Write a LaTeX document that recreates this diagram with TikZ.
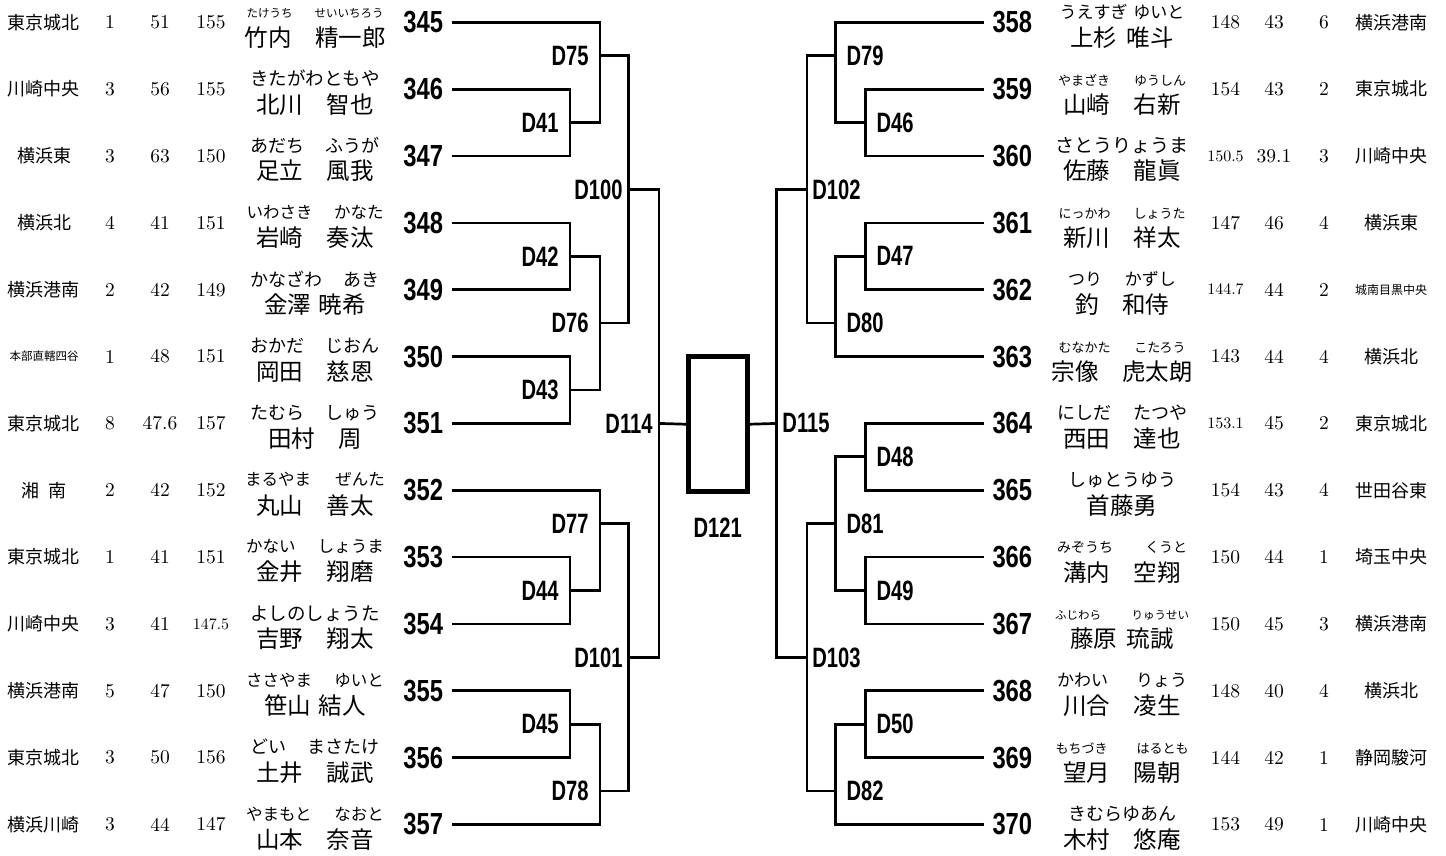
\documentclass[tikz,border=0pt]{standalone}
\usepackage{fontspec}
\newfontfamily\jp{Noto Sans CJK JP}
\newfontfamily\numf{lmroman10-regular.otf}
\newfontfamily\bnum[FakeStretch=0.78]{Liberation Sans Bold}
\newfontfamily\dfont[FakeStretch=0.72]{Liberation Sans Bold}
\newcommand\fs[1]{\fontsize{#1}{#1}\selectfont}
\newcommand\fg[4]{{\fs{#1}\makebox[#2pt]{#3\hfill#4}}}
\tikzset{
  every node/.style={inner sep=0pt, outer sep=0pt},
  col/.style={font=\numf\fs{19.5}},
  team/.style={font=\jp\fs{18}},
  furi/.style={font=\jp},
  kanji/.style={font=\jp\fs{23.5}},
  pnum/.style={font=\bnum\fs{30.5}},
  dlab/.style={font=\dfont\fs{28}},
  br/.style={line width=2.7pt, line join=miter},
}
% left row: index, number, team, a, b, c, furigana, name, furigana offset
\newcommand\Lrow[9]{%
  \pgfmathsetmacro\Y{22.3+66.85*#1}%
  \node[team] (t#2) at (44,\Y) {#3};
  \node[col] (a#2) at (110,\Y) {#4};
  \node[col] (b#2) at (160,\Y) {#5};
  \node[col] (c#2) at (211,\Y) {#6};
  \node[furi] (f#2) at (315,{\Y+(#9)}) {#7};
  \node[kanji] (k#2) at (315,{\Y+15}) {#8};
  \node[pnum, anchor=east] (n#2) at (443,\Y) {#2};
  \coordinate (l#2) at (451.7,\Y);
}
% right row: index, number, furigana, offset, name, a, b, c, team
\newcommand\Rrow[9]{%
  \pgfmathsetmacro\Y{22.3+66.85*#1}%
  \node[pnum, anchor=west] (n#2) at (992.5,\Y) {#2};
  \node[furi] (f#2) at (1122,{\Y+(#4)}) {#3};
  \node[kanji] (k#2) at (1122,{\Y+15}) {#5};
  \node[col] (a#2) at (1225.5,\Y) {#6};
  \node[col] (b#2) at (1274,\Y) {#7};
  \node[col] (c#2) at (1324,\Y) {#8};
  \node[team] (t#2) at (1391,\Y) {#9};
  \coordinate (l#2) at (983.7,\Y);
}
\newcommand\M[3]{\coordinate (m#1) at (#2,{22.3+66.85*#3});}
\begin{document}
\begin{tikzpicture}[x=1pt,y=-1pt]
\useasboundingbox (0,0) rectangle (1446,855);
\fill[white] (0,0) rectangle (1446,855);

\Lrow{0}{345}{東京城北}{1}{51}{155}{\fg{11.5}{137}{たけうち}{せいいちろう}}{竹内　精一郎}{-9}
\Lrow{1}{346}{川崎中央}{3}{56}{155}{{\fs{18.5}きたがわともや}}{北川　智也}{-10.5}
\Lrow{2}{347}{横浜東}{3}{63}{150}{\fg{18}{130}{あだち}{ふうが}}{足立　風我}{-10.5}
\Lrow{3}{348}{横浜北}{4}{41}{151}{\fg{16.5}{137}{いわさき}{かなた}}{岩崎　奏汰}{-10.5}
\Lrow{4}{349}{横浜港南}{2}{42}{149}{\fg{18}{130}{かなざわ}{あき}}{金澤\hspace{0.3em}暁希}{-10.5}
\Lrow{5}{350}{{\fs{11.5}本部直轄四谷}}{1}{48}{151}{\fg{18}{130}{おかだ}{じおん}}{岡田　慈恩}{-10.5}
\Lrow{6}{351}{東京城北}{8}{47.6}{157}{\fg{18}{130}{たむら}{しゅう}}{田村　周}{-10.5}
\Lrow{7}{352}{湘\hspace{0.5em}南}{2}{42}{152}{\fg{16.5}{140}{まるやま}{ぜんた}}{丸山　善太}{-10.5}
\Lrow{8}{353}{東京城北}{1}{41}{151}{\fg{16.5}{138}{かない}{しょうま}}{金井　翔磨}{-10.5}
\Lrow{9}{354}{川崎中央}{3}{41}{{\fs{16}147.5}}{{\fs{18.5}よしのしょうた}}{吉野　翔太}{-10.5}
\Lrow{10}{355}{横浜港南}{5}{47}{150}{\fg{16.5}{138}{ささやま}{ゆいと}}{笹山\hspace{0.3em}結人}{-10.5}
\Lrow{11}{356}{東京城北}{3}{50}{156}{\fg{18}{130}{どい}{まさたけ}}{土井　誠武}{-10.5}
\Lrow{12}{357}{横浜川崎}{3}{44}{147}{\fg{16.5}{138}{やまもと}{なおと}}{山本　奈音}{-10.5}

\Rrow{0}{358}{\fg{17}{125}{うえすぎ}{ゆいと}}{-10.5}{上杉\hspace{0.4em}唯斗}{148}{43}{6}{横浜港南}
\Rrow{1}{359}{\fg{13}{128}{やまざき}{ゆうしん}}{-9}{山崎　右新}{154}{43}{2}{東京城北}
\Rrow{2}{360}{{\fs{19}さとうりょうま}}{-10.5}{佐藤　龍眞}{{\fs{16}150.5}}{39.1}{3}{川崎中央}
\Rrow{3}{361}{\fg{13}{127}{にっかわ}{しょうた}}{-9}{新川　祥太}{147}{46}{4}{横浜東}
\Rrow{4}{362}{\fg{17}{108}{つり}{かずし}}{-10.5}{釣　和侍}{{\fs{16}144.7}}{44}{2}{{\fs{12}城南目黒中央}}
\Rrow{5}{363}{\fg{13}{127}{むなかた}{こたろう}}{-9}{宗像　虎太朗}{143}{44}{4}{横浜北}
\Rrow{6}{364}{\fg{18}{130}{にしだ}{たつや}}{-10.5}{西田　達也}{{\fs{16}153.1}}{45}{2}{東京城北}
\Rrow{7}{365}{{\fs{18}しゅとうゆう}}{-10.5}{首藤勇}{154}{43}{4}{世田谷東}
\Rrow{8}{366}{\fg{14}{130}{みぞうち}{くうと}}{-9.5}{溝内　空翔}{150}{44}{1}{埼玉中央}
\Rrow{9}{367}{\fg{11.5}{134}{ふじわら}{りゅうせい}}{-9}{藤原\hspace{0.4em}琉誠}{150}{45}{3}{横浜港南}
\Rrow{10}{368}{\fg{17}{130}{かわい}{りょう}}{-10.5}{川合　凌生}{148}{40}{4}{横浜北}
\Rrow{11}{369}{\fg{13}{133}{もちづき}{はるとも}}{-9}{望月　陽朝}{144}{42}{1}{静岡駿河}
\Rrow{12}{370}{{\fs{18}きむらゆあん}}{-10.5}{木村　悠庵}{153}{49}{1}{川崎中央}

% match junctions, left
\M{41}{570}{1.5} \M{42}{570}{3.5} \M{43}{570}{5.5}
\M{44}{570}{8.5} \M{45}{570}{10.5}
\M{75}{600}{0.5} \M{76}{600}{4.5} \M{77}{600}{7.5} \M{78}{600}{11.5}
\M{100}{628.5}{2.5} \M{101}{628.5}{9.5}
\M{114}{659}{6}
% match junctions, right
\M{46}{865.5}{1.5} \M{47}{865.5}{3.5} \M{48}{865.5}{6.5}
\M{49}{865.5}{8.5} \M{50}{865.5}{10.5}
\M{79}{835.5}{0.5} \M{80}{835.5}{4.5} \M{81}{835.5}{7.5} \M{82}{835.5}{11.5}
\M{102}{807}{2.5} \M{103}{807}{9.5}
\M{115}{776.5}{6}

\node[draw, line width=5pt, minimum width=59pt, minimum height=135pt] (final) at (717.7,424.3) {};

% left brackets
\draw[br] (l346) -| (m41) |- (l347);
\draw[br] (l345) -| (m75) |- (m41);
\draw[br] (l348) -| (m42) |- (l349);
\draw[br] (l350) -| (m43) |- (l351);
\draw[br] (m42) -| (m76) |- (m43);
\draw[br] (m75) -| (m100) |- (m76);
\draw[br] (l353) -| (m44) |- (l354);
\draw[br] (l352) -| (m77) |- (m44);
\draw[br] (l355) -| (m45) |- (l356);
\draw[br] (m45) -| (m78) |- (l357);
\draw[br] (m77) -| (m101) |- (m78);
\draw[br] (m100) -| (m114) |- (m101);
\draw[br] (m114) -- (final.west);
% right brackets
\draw[br] (l359) -| (m46) |- (l360);
\draw[br] (l358) -| (m79) |- (m46);
\draw[br] (l361) -| (m47) |- (l362);
\draw[br] (m47) -| (m80) |- (l363);
\draw[br] (m79) -| (m102) |- (m80);
\draw[br] (l364) -| (m48) |- (l365);
\draw[br] (l366) -| (m49) |- (l367);
\draw[br] (m48) -| (m81) |- (m49);
\draw[br] (l368) -| (m50) |- (l369);
\draw[br] (m50) -| (m82) |- (l370);
\draw[br] (m81) -| (m103) |- (m82);
\draw[br] (m102) -| (m115) |- (m103);
\draw[br] (m115) -- (final.east);

% match labels, left
\foreach \m in {41,42,43,44,45,75,76,77,78,100,101,114}
  \node[dlab] (tD\m) at ([xshift=-30pt]m\m) {D\m};
% match labels, right
\foreach \m in {46,47,48,49,50,79,80,81,82,102,103,115}
  \node[dlab] (tD\m) at ([xshift=29.5pt]m\m) {D\m};
\node[dlab] (tD121) at ([yshift=-35.7pt]final.south) {D121};
\end{tikzpicture}
\end{document}
